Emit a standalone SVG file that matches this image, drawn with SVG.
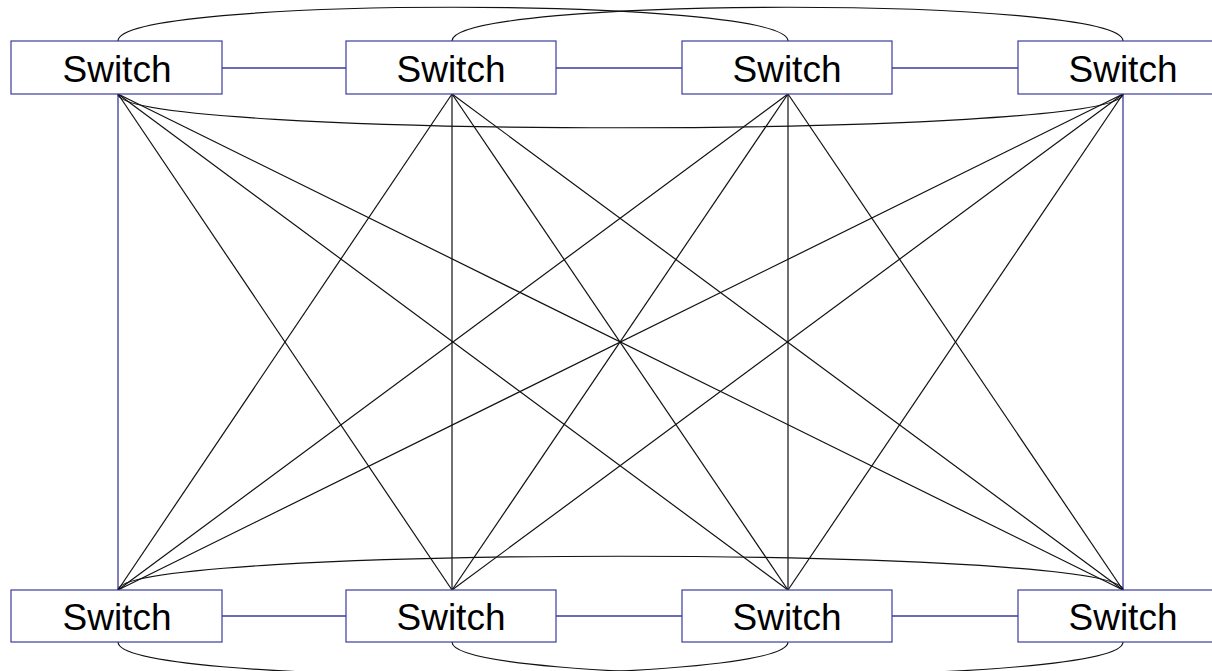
<svg xmlns="http://www.w3.org/2000/svg" width="1212" height="671" viewBox="0 0 1212 671">
<style>
.box{fill:#ffffff;stroke:#3b3b9e;stroke-width:1.2}
.lbl{font-family:"Liberation Sans",Arial,sans-serif;font-size:37px;fill:#000;text-anchor:middle}
.blue{stroke:#3b3b9e;stroke-width:1.3;fill:none}
.blk{stroke:#111;stroke-width:1.2;fill:none}
</style>
<rect width="1212" height="671" fill="#ffffff"/>
<g id="connectors">
  <!-- blue row links -->
  <line class="blue" x1="222" y1="68" x2="346" y2="68"/>
  <line class="blue" x1="556" y1="68" x2="682" y2="68"/>
  <line class="blue" x1="892" y1="68" x2="1018" y2="68"/>
  <line class="blue" x1="222" y1="616" x2="346" y2="616"/>
  <line class="blue" x1="556" y1="616" x2="682" y2="616"/>
  <line class="blue" x1="892" y1="616" x2="1018" y2="616"/>
  <!-- blue verticals -->
  <line class="blue" x1="118" y1="94" x2="118" y2="590"/>
  <line class="blue" x1="1123" y1="94" x2="1123" y2="590"/>
  <!-- black verticals -->
  <line class="blk" x1="452" y1="94" x2="452" y2="590"/>
  <line class="blk" x1="788" y1="94" x2="788" y2="590"/>
  <!-- diagonals -->
  <line class="blk" x1="118" y1="94" x2="452" y2="590"/>
  <line class="blk" x1="118" y1="94" x2="788" y2="590"/>
  <line class="blk" x1="118" y1="94" x2="1123" y2="590"/>
  <line class="blk" x1="452" y1="94" x2="118" y2="590"/>
  <line class="blk" x1="452" y1="94" x2="788" y2="590"/>
  <line class="blk" x1="452" y1="94" x2="1123" y2="590"/>
  <line class="blk" x1="788" y1="94" x2="118" y2="590"/>
  <line class="blk" x1="788" y1="94" x2="452" y2="590"/>
  <line class="blk" x1="788" y1="94" x2="1123" y2="590"/>
  <line class="blk" x1="1123" y1="94" x2="118" y2="590"/>
  <line class="blk" x1="1123" y1="94" x2="452" y2="590"/>
  <line class="blk" x1="1123" y1="94" x2="788" y2="590"/>
  <!-- curves -->
  <path class="blk" d="M118,41 C118,-4 788,-4 788,41"/>
  <path class="blk" d="M452,41 C452,-4 1123,-4 1123,41"/>
  <path class="blk" d="M118,94 C118,139 1123,139 1123,94"/>
  <path class="blk" d="M118,590 C118,545 1123,545 1123,590"/>
  <path class="blk" d="M118,642 C118,686 788,686 788,642"/>
  <path class="blk" d="M452,642 C452,686 1123,686 1123,642"/>
</g>
<g id="sw1"><rect class="box" x="11" y="41" width="211" height="53"/><text class="lbl" x="117" y="82">Switch</text></g>
<g id="sw2"><rect class="box" x="346" y="41" width="210" height="53"/><text class="lbl" x="451" y="82">Switch</text></g>
<g id="sw3"><rect class="box" x="682" y="41" width="210" height="53"/><text class="lbl" x="787" y="82">Switch</text></g>
<g id="sw4"><rect class="box" x="1018" y="41" width="211" height="53"/><text class="lbl" x="1123" y="82">Switch</text></g>
<g id="sw5"><rect class="box" x="11" y="590" width="211" height="52"/><text class="lbl" x="117" y="630">Switch</text></g>
<g id="sw6"><rect class="box" x="346" y="590" width="210" height="52"/><text class="lbl" x="451" y="630">Switch</text></g>
<g id="sw7"><rect class="box" x="682" y="590" width="210" height="52"/><text class="lbl" x="787" y="630">Switch</text></g>
<g id="sw8"><rect class="box" x="1018" y="590" width="211" height="52"/><text class="lbl" x="1123" y="630">Switch</text></g>
</svg>
